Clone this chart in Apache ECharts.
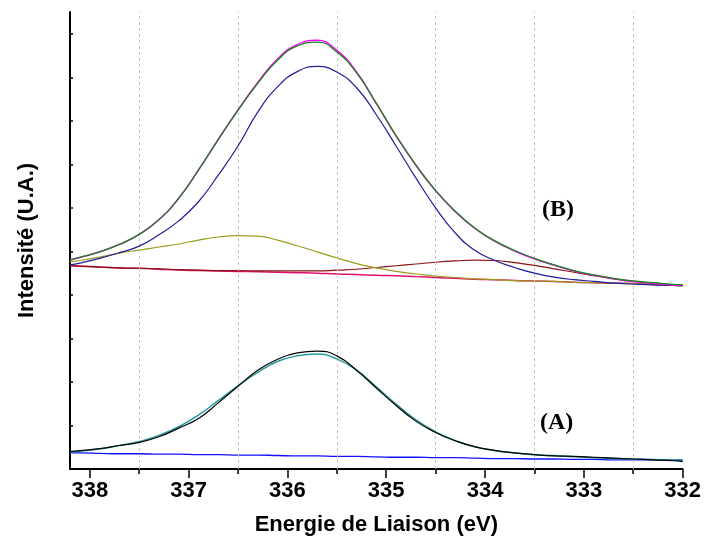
<!DOCTYPE html>
<html>
<head>
<meta charset="utf-8">
<script src="https://cdn.jsdelivr.net/npm/echarts@6/dist/echarts.min.js"></script>
<style>html,body{margin:0;padding:0;background:#fff;}#chart{width:704px;height:547px;}</style>
</head>
<body>
<div id="chart"></div>
<script>
// Binding energy (eV), 33 samples
var energies  = [338.2,338.1,337.9,337.7,337.5,337.3,337.1,336.9,336.7,336.5,336.3,336.1,335.9,335.7,335.5,335.3,335.1,334.9,334.7,334.5,334.3,334.1,333.9,333.7,333.5,333.3,333.1,332.9,332.7,332.5,332.3,332.1,332.0];
// (B) envelope (data, green) and fit sum (magenta)
var bEnvelope = [4.80,4.86,4.99,5.16,5.39,5.73,6.22,6.87,7.57,8.24,8.86,9.39,9.72,9.81,9.58,9.10,8.40,7.66,6.99,6.40,5.92,5.53,5.24,5.02,4.84,4.69,4.56,4.46,4.38,4.32,4.28,4.24,4.23];
var bFitSum   = [4.80,4.86,4.99,5.16,5.39,5.73,6.22,6.87,7.57,8.25,8.88,9.42,9.75,9.85,9.62,9.12,8.40,7.65,6.98,6.39,5.91,5.52,5.23,5.01,4.83,4.68,4.55,4.45,4.37,4.31,4.27,4.23,4.22];
// (B) components
var bMain     = [4.69,4.73,4.84,4.97,5.12,5.38,5.70,6.14,6.75,7.42,8.20,8.78,9.13,9.25,9.12,8.76,8.14,7.42,6.69,6.00,5.42,5.02,4.79,4.63,4.50,4.41,4.35,4.31,4.27,4.25,4.23,4.22,4.21];
var bHigh     = [4.76,4.79,4.87,4.96,5.03,5.10,5.17,5.26,5.33,5.36,5.35,5.26,5.13,4.99,4.85,4.72,4.62,4.54,4.48,4.43,4.40,4.37,4.35,4.33,4.32,4.31,4.29,4.28,4.27,4.26,4.24,4.22,4.21];
var bLow      = [4.67,4.66,4.64,4.62,4.61,4.60,4.58,4.57,4.56,4.56,4.55,4.55,4.55,4.55,4.57,4.59,4.63,4.67,4.71,4.75,4.78,4.80,4.79,4.74,4.68,4.60,4.52,4.44,4.37,4.31,4.27,4.23,4.22];
var bBaseline = [4.67,4.66,4.64,4.62,4.61,4.59,4.57,4.56,4.55,4.54,4.53,4.52,4.51,4.50,4.48,4.47,4.45,4.44,4.42,4.40,4.38,4.36,4.35,4.33,4.32,4.31,4.29,4.28,4.27,4.26,4.24,4.22,4.21];
// (A) data (black), fit (teal), baseline (blue)
var aData     = [0.40,0.42,0.47,0.54,0.61,0.74,0.94,1.16,1.52,1.90,2.27,2.52,2.67,2.71,2.60,2.27,1.86,1.46,1.10,0.84,0.65,0.51,0.43,0.37,0.33,0.30,0.29,0.27,0.25,0.23,0.21,0.19,0.17];
var aFit      = [0.39,0.41,0.46,0.54,0.63,0.77,0.97,1.24,1.57,1.91,2.22,2.47,2.60,2.64,2.53,2.27,1.89,1.49,1.13,0.85,0.65,0.51,0.42,0.37,0.33,0.31,0.28,0.26,0.24,0.23,0.22,0.21,0.21];
var aBaseline = [0.37,0.37,0.36,0.35,0.35,0.34,0.34,0.33,0.33,0.32,0.32,0.31,0.30,0.30,0.29,0.29,0.28,0.27,0.27,0.26,0.26,0.25,0.24,0.24,0.23,0.23,0.22,0.22,0.21,0.21,0.21,0.20,0.20];
// axis ticks
var majorTicks = [332,333,334,335,336,337,338];
var halfTicks  = [332.5,333.5,334.5,335.5,336.5,337.5];
var yTicks     = [1,2,3,4,5,6,7,8,9,10];

function pairs(vals){ return energies.map(function(e,i){ return [e, vals[i]]; }); }
function line(name, vals, color, width, z, extra){
  var s = {name:name, type:'line', data:pairs(vals), smooth:0.5, symbol:'none', silent:true,
    lineStyle:{color:color, width:width}, z:z, animation:false};
  if (extra) for (var k in extra) s[k]=extra[k];
  return s;
}
var allTicks = majorTicks.concat(halfTicks).sort(function(a,b){return a-b;});
var chart = echarts.init(document.getElementById('chart'), null, {renderer:'canvas'});
var font = '"Liberation Sans", Arial, sans-serif';
chart.setOption({
  animation:false,
  backgroundColor:'#fff',
  grid:{left:70, right:20, top:12, bottom:78},
  xAxis:[{
    type:'value', min:332, max:338.2, inverse:true, interval:0.5,
    axisLine:{show:true, onZero:false, lineStyle:{color:'#000', width:2}},
    axisTick:{show:true, length:5, inside:false, customValues:allTicks, lineStyle:{color:'#000', width:1.5}},
    axisLabel:{show:true, customValues:majorTicks, margin:11, color:'#000', fontFamily:font, fontWeight:'bold', fontSize:22,
      formatter:function(v){ return (Math.abs(v-Math.round(v))<1e-6)? String(Math.round(v)) : ''; }},
    splitLine:{show:false},
    name:'Energie de Liaison (eV)', nameLocation:'middle', nameGap:45,
    nameTextStyle:{color:'#000', fontFamily:font, fontWeight:'bold', fontSize:22}
  },{
    type:'value', min:332, max:338.2, inverse:true, interval:1, position:'bottom',
    axisLine:{show:false, onZero:false},
    axisTick:{show:true, length:9, customValues:majorTicks, lineStyle:{color:'#000', width:1.5}},
    axisLabel:{show:false}, splitLine:{show:false}
  }],
  yAxis:{
    type:'value', min:0, max:10.5, interval:1,
    axisLine:{show:true, onZero:false, lineStyle:{color:'#000', width:2}},
    axisTick:{show:true, inside:true, length:3, customValues:yTicks, lineStyle:{color:'#000', width:1.5}},
    axisLabel:{show:false}, splitLine:{show:false},
    name:'Intensité (U.A.)', nameLocation:'middle', nameRotate:90, nameGap:32,
    nameTextStyle:{color:'#000', fontFamily:font, fontWeight:'bold', fontSize:22}
  },
  series:[
    line('grid', aBaseline, 'rgba(0,0,0,0)', 0, 1, {markLine:{silent:true, symbol:['none','none'], label:{show:false},
      lineStyle:{color:'#c4c4c4', type:[3,3], width:1}, animation:false,
      data:halfTicks.map(function(v){ return {xAxis:v}; })}}),
    line('B baseline', bBaseline, '#e0106e', 1.5, 3),
    line('B low', bLow, '#8b1010', 1.2, 4),
    line('B high', bHigh, '#9c9c1c', 1.2, 4),
    line('B main', bMain, '#1e1e9a', 1.2, 5),
    line('B fit', bFitSum, '#ff00ff', 1.5, 6),
    line('B data', bEnvelope, '#138a13', 1.3, 7),
    line('A baseline', aBaseline, '#1010ff', 1.3, 3),
    line('A fit', aFit, '#2a9a9a', 1.5, 5),
    line('A data', aData, '#000000', 1.2, 6)
  ],
  graphic:[
    {type:'text', left:542, top:198, style:{text:'(B)', fill:'#000', font:'bold 24px "Liberation Serif", "Times New Roman", serif'}},
    {type:'text', left:540, top:411, style:{text:'(A)', fill:'#000', font:'bold 24px "Liberation Serif", "Times New Roman", serif'}}
  ]
});
</script>
</body>
</html>
